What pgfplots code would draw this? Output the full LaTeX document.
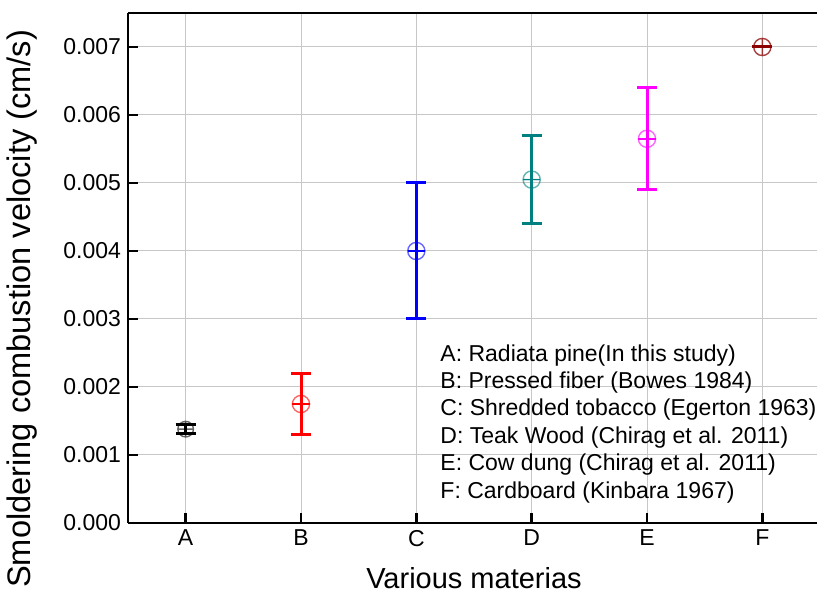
\documentclass[border=0pt]{standalone}
\usepackage{fontspec}
\setmainfont{Liberation Sans}
\usepackage{pgfplots}
\usepackage{pgfplotstable}
\pgfplotsset{compat=1.18}
\definecolor{cA}{RGB}{0,0,0}
\definecolor{cB}{RGB}{255,0,0}
\definecolor{cC}{RGB}{0,0,255}
\definecolor{cD}{RGB}{0,128,128}
\definecolor{cE}{RGB}{255,0,255}
\definecolor{cF}{RGB}{140,0,0}
\begin{document}
\begin{tikzpicture}
\begin{axis}[
  at={(0,0)}, anchor=south west,
  width=346pt, height=255pt, scale only axis,
  xmin=-0.5, xmax=5.5, ymin=0, ymax=0.0075,
  axis x line=box, axis y line=left,
  axis line style={-, line width=1.2pt},
  xtick={0,1,2,3,4,5}, xticklabels={A,B,C,D,E,F},
  ytick={0,0.001,0.002,0.003,0.004,0.005,0.006,0.007},
  yticklabels={0.000,0.001,0.002,0.003,0.004,0.005,0.006,0.007},
  scaled y ticks=false,
  xtick pos=bottom, ytick pos=left,
  tick align=inside, major tick length=5pt,
  tick style={black, line width=1.2pt},
  grid=major, grid style={black!22, line width=0.5pt},
  tick label style={font=\fontsize{11.5}{13}\selectfont},
  /pgf/number format/assume math mode=true,
  xlabel={Various materias},
  ylabel={Smoldering combustion velocity (cm/s)},
  xlabel style={font=\fontsize{14.5}{16}\selectfont, at={(axis description cs:0.5,-0.108)}, anchor=center},
  ylabel style={font=\fontsize{16.3}{18}\selectfont, at={(axis description cs:-0.153,0.42)}, anchor=center},
  error bars/error bar style={line width=1.5pt},
  error bars/error mark=|,
  error bars/error mark options={mark size=5pt, line width=1.5pt},
]
\addplot[cA, mark=oplus, mark size=3.9pt, mark options={draw opacity=0.6, line width=0.7pt}, only marks,
  error bars/.cd, y dir=both, y explicit] table[x=x, y=y, y error=e] {
x y e
0 0.00138 0.00007
};
\addplot[cB, mark=oplus, mark size=4.3pt, mark options={draw opacity=0.6, line width=0.7pt}, only marks,
  error bars/.cd, y dir=both, y explicit] table[x=x, y=y, y error=e] {
x y e
1 0.00175 0.00045
};
\addplot[cC, mark=oplus, mark size=4.3pt, mark options={draw opacity=0.6, line width=0.7pt}, only marks,
  error bars/.cd, y dir=both, y explicit] table[x=x, y=y, y error=e] {
x y e
2 0.0040 0.0010
};
\addplot[cD, mark=oplus, mark size=4.3pt, mark options={draw opacity=0.6, line width=0.7pt}, only marks,
  error bars/.cd, y dir=both, y explicit] table[x=x, y=y, y error=e] {
x y e
3 0.00505 0.00065
};
\addplot[cE, mark=oplus, mark size=4.3pt, mark options={draw opacity=0.6, line width=0.7pt}, only marks,
  error bars/.cd, y dir=both, y explicit] table[x=x, y=y, y error=e] {
x y e
4 0.00565 0.00075
};
\addplot[cF, mark=oplus, mark size=4.3pt, mark options={draw opacity=0.75, line width=0.7pt}, only marks,
  error bars/.cd, y dir=both, y explicit] table[x=x, y=y, y error=e] {
x y e
5 0.0070 0.0
};
% darker centre bars across the markers
\addplot[cC, only marks, mark=-, mark size=4.3pt, mark options={line width=0.9pt}] coordinates {(2,0.0040)};
\addplot[cD, only marks, mark=-, mark size=4.3pt, mark options={line width=0.9pt}] coordinates {(3,0.00505)};
\addplot[cE, only marks, mark=-, mark size=4.3pt, mark options={line width=0.9pt}] coordinates {(4,0.00565)};
\addplot[cB, only marks, mark=-, mark size=4.3pt, mark options={line width=0.9pt}] coordinates {(1,0.00175)};
\node[anchor=north west, align=left, inner sep=0pt, font=\fontsize{11.5}{13.7}\selectfont]
  at (rel axis cs:0.451,0.351) {A: Radiata pine(In this study)\\
B: Pressed fiber (Bowes 1984)\\
C: Shredded tobacco (Egerton 1963)\\
D: Teak Wood (Chirag et al. 2011)\\
E: Cow dung (Chirag et al. 2011)\\
F: Cardboard (Kinbara 1967)};
\end{axis}
\pgfresetboundingbox
\path[use as bounding box] (-64pt,-34.5pt) rectangle (344.5pt,261.5pt);
\end{tikzpicture}
\end{document}
